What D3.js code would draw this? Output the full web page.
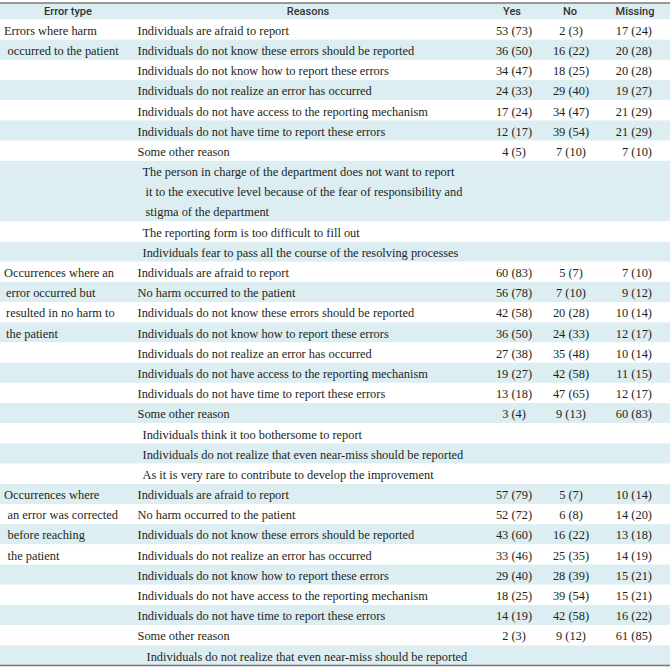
<!DOCTYPE html>
<html>
<head>
<meta charset="utf-8">
<script src="https://cdn.jsdelivr.net/npm/d3@7"></script>
<style>
  html, body { margin: 0; padding: 0; background: #fff; }
  .body-text { font-family: "Liberation Serif", "Times New Roman", serif; font-size: 12.4px; fill: #231f20; }
  .head-text { font-family: Roboto, "Noto Sans", sans-serif; font-size: 11px; font-weight: 500; fill: #333; }
</style>
</head>
<body>
<svg id="table" width="670" height="670"></svg>
<script>
// Reasons for not reporting, by error type: counts and (percent).

const headers = ["Error type", "Reasons", "Yes", "No", "Missing"];

const errorTypes = [
  ["Errors where harm", "occurred to the patient"],
  ["Occurrences where an", "error occurred but", "resulted in no harm to", "the patient"],
  ["Occurrences where", "an error was corrected", "before reaching", "the patient"]
];

const reasons = [
  ["Individuals are afraid to report",
   "Individuals do not know these errors should be reported",
   "Individuals do not know how to report these errors",
   "Individuals do not realize an error has occurred",
   "Individuals do not have access to the reporting mechanism",
   "Individuals do not have time to report these errors",
   "Some other reason"],
  ["Individuals are afraid to report",
   "No harm occurred to the patient",
   "Individuals do not know these errors should be reported",
   "Individuals do not know how to report these errors",
   "Individuals do not realize an error has occurred",
   "Individuals do not have access to the reporting mechanism",
   "Individuals do not have time to report these errors",
   "Some other reason"],
  ["Individuals are afraid to report",
   "No harm occurred to the patient",
   "Individuals do not know these errors should be reported",
   "Individuals do not realize an error has occurred",
   "Individuals do not know how to report these errors",
   "Individuals do not have access to the reporting mechanism",
   "Individuals do not have time to report these errors",
   "Some other reason"]
];

// free-text answers listed under "Some other reason"
const otherNotes = [
  [["The person in charge of the department does not want to report",
    "it to the executive level because of the fear of responsibility and",
    "stigma of the department"],
   ["The reporting form is too difficult to fill out"],
   ["Individuals fear to pass all the course of the resolving processes"]],
  [["Individuals think it too bothersome to report"],
   ["Individuals do not realize that even near-miss should be reported"],
   ["As it is very rare to contribute to develop the improvement"]],
  [["Individuals do not realize that even near-miss should be reported"]]
];

const yesN = [[53, 36, 34, 24, 17, 12, 4], [60, 56, 42, 36, 27, 19, 13, 3], [57, 52, 43, 33, 29, 18, 14, 2]];
const yesPct = [[73, 50, 47, 33, 24, 17, 5], [83, 78, 58, 50, 38, 27, 18, 4], [79, 72, 60, 46, 40, 25, 19, 3]];
const noN = [[2, 16, 18, 29, 34, 39, 7], [5, 7, 20, 24, 35, 42, 47, 9], [5, 6, 16, 25, 28, 39, 42, 9]];
const noPct = [[3, 22, 25, 40, 47, 54, 10], [7, 10, 28, 33, 48, 58, 65, 13], [7, 8, 22, 35, 39, 54, 58, 12]];
const missN = [[17, 20, 20, 19, 21, 21, 7], [7, 9, 10, 12, 10, 11, 12, 60], [10, 14, 13, 14, 15, 15, 16, 61]];
const missPct = [[24, 28, 28, 27, 29, 29, 10], [10, 12, 14, 17, 14, 15, 17, 83], [14, 20, 18, 19, 21, 21, 22, 85]];

(function drawTable() {
  const W = 670;
  const ruleTop = 3;
  const headBottom = 19.5;
  const ruleBottom = 665.5;
  const shade = "#dceef2";

  // flatten into table rows, each spanning one or more text lines
  const rows = [];
  let line = 0;
  const groupStarts = [];
  reasons.forEach(function (list, g) {
    groupStarts.push(line);
    list.forEach(function (r, i) {
      rows.push({
        lines: [r], sub: false, start: line,
        vals: [
          yesN[g][i] + " (" + yesPct[g][i] + ")",
          noN[g][i] + " (" + noPct[g][i] + ")",
          missN[g][i] + " (" + missPct[g][i] + ")"
        ],
        group: g
      });
      line += 1;
    });
    otherNotes[g].forEach(function (note) {
      rows.push({ lines: note, sub: true, start: line, vals: null, group: g });
      line += note.length;
    });
  });
  const totalLines = line;

  const y = d3.scaleLinear().domain([0, totalLines]).range([headBottom, ruleBottom]);

  const svg = d3.select("#table");

  // header band
  svg.append("rect")
    .attr("x", 0).attr("y", ruleTop)
    .attr("width", W).attr("height", headBottom - ruleTop)
    .attr("fill", shade);

  // alternating row bands
  svg.selectAll(".band")
    .data(rows)
    .enter()
    .append("rect")
    .attr("class", "band")
    .attr("x", 0)
    .attr("y", function (d) { return y(d.start); })
    .attr("width", W)
    .attr("height", function (d) { return y(d.start + d.lines.length) - y(d.start); })
    .attr("fill", function (d, i) { return i % 2 === 1 ? shade : "#fff"; });

  // rules
  svg.append("line")
    .attr("x1", 0).attr("x2", W)
    .attr("y1", ruleTop).attr("y2", ruleTop)
    .attr("stroke", "#7a7a7a").attr("stroke-width", 1.3);
  svg.append("line")
    .attr("x1", 0).attr("x2", W)
    .attr("y1", ruleBottom).attr("y2", ruleBottom)
    .attr("stroke", "#7a7a7a").attr("stroke-width", 1.3);

  // header labels
  const headX = [68, 308, 512, 570, 635];
  svg.selectAll(".head-text")
    .data(headers)
    .enter()
    .append("text")
    .attr("class", "head-text")
    .attr("x", function (d, i) { return headX[i]; })
    .attr("y", 15.3)
    .attr("text-anchor", "middle")
    .text(function (d) { return d; });

  const baseline = 15.3;

  // error type column
  errorTypes.forEach(function (lines, g) {
    svg.selectAll(".etype-" + g)
      .data(lines)
      .enter()
      .append("text")
      .attr("class", "body-text etype-" + g)
      .attr("x", function (d, i) { return i === 0 ? 4 : (g === 1 ? 6 : 7.5); })
      .attr("y", function (d, i) { return y(groupStarts[g] + i) + baseline; })
      .text(function (d) { return d; });
  });

  // reasons column
  rows.forEach(function (row) {
    svg.selectAll(null)
      .data(row.lines)
      .enter()
      .append("text")
      .attr("class", "body-text")
      .attr("x", function (d, i) {
        if (!row.sub) return 137.5;
        if (row.group === 2) return 146.5;
        return i === 0 ? 142.5 : 145.5;
      })
      .attr("y", function (d, i) { return y(row.start + i) + baseline; })
      .text(function (d) { return d; });
  });

  // values columns
  const valueRows = rows.filter(function (r) { return r.vals; });
  const yesX = 514;
  const noX = 571;
  const missRight = 652;

  svg.selectAll(".v-yes")
    .data(valueRows)
    .enter()
    .append("text")
    .attr("class", "body-text v-yes")
    .attr("x", yesX)
    .attr("text-anchor", "middle")
    .attr("y", function (d) { return y(d.start) + baseline; })
    .text(function (d) { return d.vals[0]; });

  svg.selectAll(".v-no")
    .data(valueRows)
    .enter()
    .append("text")
    .attr("class", "body-text v-no")
    .attr("x", noX)
    .attr("text-anchor", "middle")
    .attr("y", function (d) { return y(d.start) + baseline; })
    .text(function (d) { return d.vals[1]; });

  svg.selectAll(".v-miss")
    .data(valueRows)
    .enter()
    .append("text")
    .attr("class", "body-text v-miss")
    .attr("x", missRight)
    .attr("text-anchor", "end")
    .attr("y", function (d) { return y(d.start) + baseline; })
    .text(function (d) { return d.vals[2]; });
})();
</script>
</body>
</html>
